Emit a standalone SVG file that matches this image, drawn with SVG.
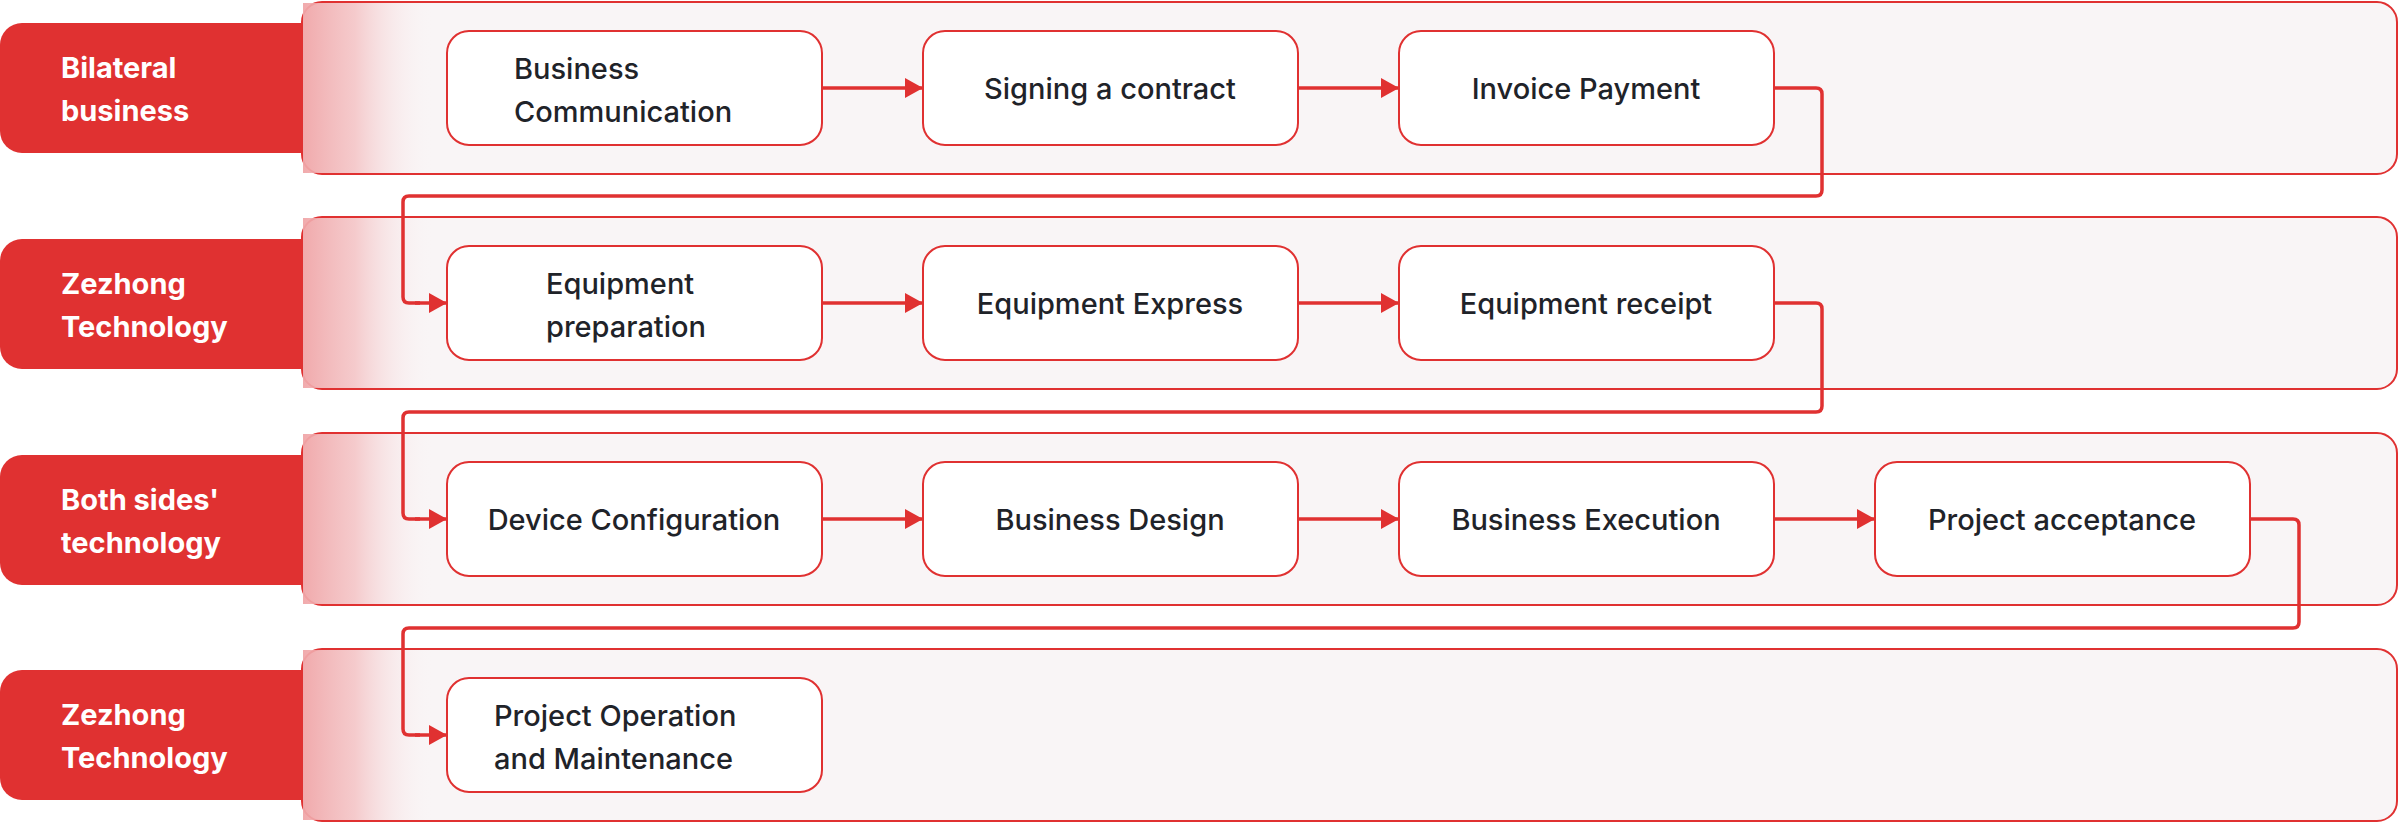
<svg xmlns="http://www.w3.org/2000/svg" width="2400" height="824" viewBox="0 0 2400 824">
<defs>
<linearGradient id="fade" x1="0" y1="0" x2="1" y2="0">
<stop offset="0" stop-color="#f0a6a8" stop-opacity="0.95"/>
<stop offset="0.4" stop-color="#f3b8ba" stop-opacity="0.7"/>
<stop offset="1" stop-color="#f9f5f6" stop-opacity="0"/>
</linearGradient>
<marker id="arr" markerWidth="18" markerHeight="20" refX="17" refY="10" orient="auto" markerUnits="userSpaceOnUse">
<path d="M0,0 L18,10 L0,20 Z" fill="#e03131"/>
</marker>
<style>
.lane{fill:#f9f5f6;stroke:#e03131;stroke-width:2}
.tag{fill:#e03131}
.tagt{fill:#fff;font-family:Inter,"Noto Sans",sans-serif;font-weight:700;font-size:29px}
.node{fill:#fff;stroke:#e03131;stroke-width:2}
.nt{fill:#1f2329;font-family:Inter,"Noto Sans",sans-serif;font-weight:500;font-size:29px;text-anchor:middle}
.nl{text-anchor:start}
.c{fill:none;stroke:#e03131;stroke-width:3.5;stroke-linejoin:round}
</style>
</defs>
<g id="lanes">
<g id="lane1"><rect class="lane" x="302" y="2" width="2095" height="172" rx="20"/><rect x="303" y="3" width="130" height="170" fill="url(#fade)"/><rect class="tag" x="0" y="23" width="302" height="130" rx="22"/><rect class="tag" x="250" y="23" width="52" height="130"/><text class="tagt" x="61" y="78">Bilateral</text><text class="tagt" x="61" y="121">business</text></g>
<g id="lane2"><rect class="lane" x="302" y="217" width="2095" height="172" rx="20"/><rect x="303" y="218" width="130" height="170" fill="url(#fade)"/><rect class="tag" x="0" y="239" width="302" height="130" rx="22"/><rect class="tag" x="250" y="239" width="52" height="130"/><text class="tagt" x="61" y="294">Zezhong</text><text class="tagt" x="61" y="337">Technology</text></g>
<g id="lane3"><rect class="lane" x="302" y="433" width="2095" height="172" rx="20"/><rect x="303" y="434" width="130" height="170" fill="url(#fade)"/><rect class="tag" x="0" y="455" width="302" height="130" rx="22"/><rect class="tag" x="250" y="455" width="52" height="130"/><text class="tagt" x="61" y="510">Both sides'</text><text class="tagt" x="61" y="553">technology</text></g>
<g id="lane4"><rect class="lane" x="302" y="649" width="2095" height="172" rx="20"/><rect x="303" y="650" width="130" height="170" fill="url(#fade)"/><rect class="tag" x="0" y="670" width="302" height="130" rx="22"/><rect class="tag" x="250" y="670" width="52" height="130"/><text class="tagt" x="61" y="725">Zezhong</text><text class="tagt" x="61" y="768">Technology</text></g>
</g>
<g id="connectors">
<path class="c" marker-end="url(#arr)" d="M822,88 H922"/>
<path class="c" marker-end="url(#arr)" d="M1298,88 H1398"/>
<path class="c" d="M1774,88 H1816 Q1822,88 1822,94 V190 Q1822,196 1816,196 H409 Q403,196 403,202 V297 Q403,303 409,303 H420"/>
<path class="c" marker-end="url(#arr)" d="M415,303 H446"/>
<path class="c" marker-end="url(#arr)" d="M822,303 H922"/>
<path class="c" marker-end="url(#arr)" d="M1298,303 H1398"/>
<path class="c" d="M1774,303 H1816 Q1822,303 1822,309 V406 Q1822,412 1816,412 H409 Q403,412 403,418 V513 Q403,519 409,519 H420"/>
<path class="c" marker-end="url(#arr)" d="M415,519 H446"/>
<path class="c" marker-end="url(#arr)" d="M822,519 H922"/>
<path class="c" marker-end="url(#arr)" d="M1298,519 H1398"/>
<path class="c" marker-end="url(#arr)" d="M1774,519 H1874"/>
<path class="c" d="M2250,519 H2293 Q2299,519 2299,525 V622 Q2299,628 2293,628 H409 Q403,628 403,634 V729 Q403,735 409,735 H420"/>
<path class="c" marker-end="url(#arr)" d="M415,735 H446"/>
</g>
<g id="n1"><rect class="node" x="447" y="31" width="375" height="114" rx="22"/><text class="nt nl" x="514" y="79">Business</text><text class="nt nl" x="514" y="122">Communication</text></g>
<g id="n2"><rect class="node" x="923" y="31" width="375" height="114" rx="22"/><text class="nt" x="1110" y="99">Signing a contract</text></g>
<g id="n3"><rect class="node" x="1399" y="31" width="375" height="114" rx="22"/><text class="nt" x="1586" y="99">Invoice Payment</text></g>
<g id="n4"><rect class="node" x="447" y="246" width="375" height="114" rx="22"/><text class="nt nl" x="546" y="294">Equipment</text><text class="nt nl" x="546" y="337">preparation</text></g>
<g id="n5"><rect class="node" x="923" y="246" width="375" height="114" rx="22"/><text class="nt" x="1110" y="314">Equipment Express</text></g>
<g id="n6"><rect class="node" x="1399" y="246" width="375" height="114" rx="22"/><text class="nt" x="1586" y="314">Equipment receipt</text></g>
<g id="n7"><rect class="node" x="447" y="462" width="375" height="114" rx="22"/><text class="nt" x="634" y="530">Device Configuration</text></g>
<g id="n8"><rect class="node" x="923" y="462" width="375" height="114" rx="22"/><text class="nt" x="1110" y="530">Business Design</text></g>
<g id="n9"><rect class="node" x="1399" y="462" width="375" height="114" rx="22"/><text class="nt" x="1586" y="530">Business Execution</text></g>
<g id="n10"><rect class="node" x="1875" y="462" width="375" height="114" rx="22"/><text class="nt" x="2062" y="530">Project acceptance</text></g>
<g id="n11"><rect class="node" x="447" y="678" width="375" height="114" rx="22"/><text class="nt nl" x="494" y="726">Project Operation</text><text class="nt nl" x="494" y="769">and Maintenance</text></g>
</svg>
